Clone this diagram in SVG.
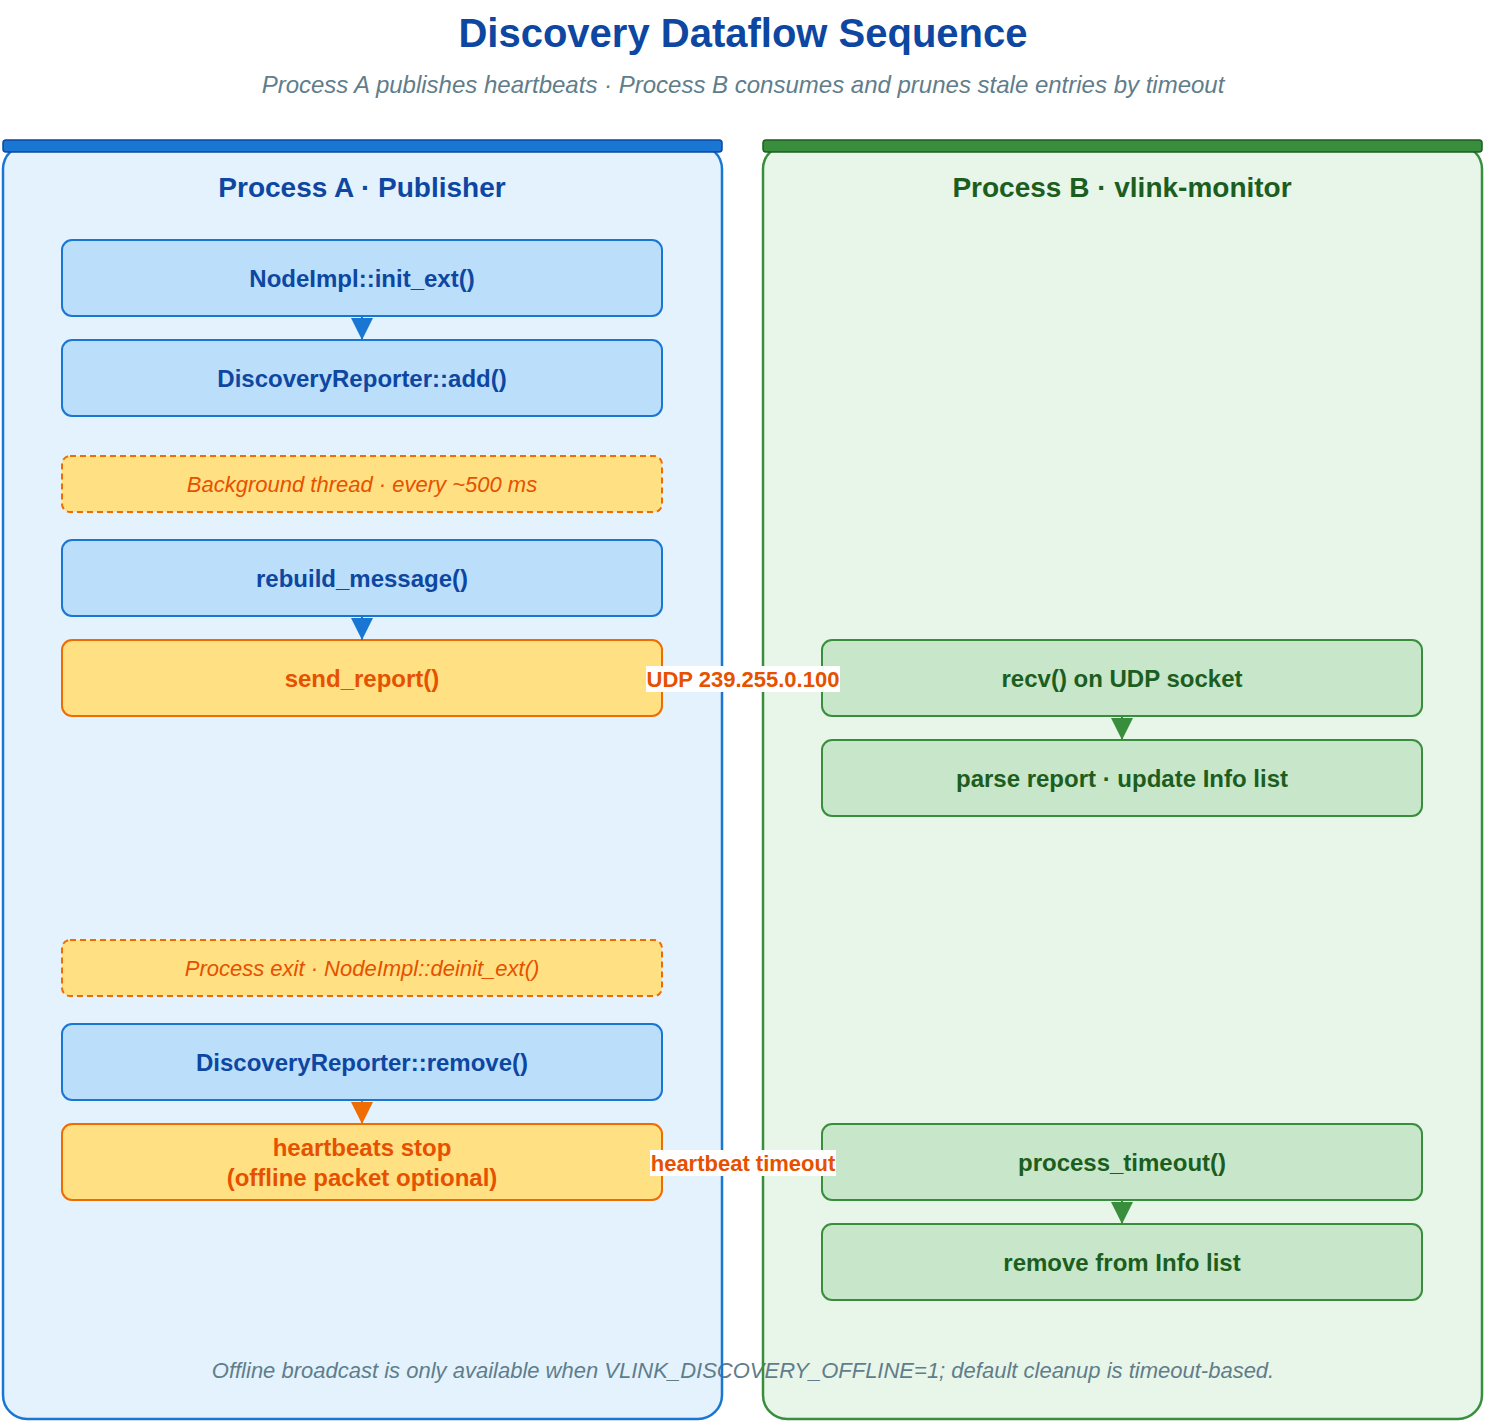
<svg xmlns="http://www.w3.org/2000/svg" width="1486" height="1424" viewBox="0 0 1486 1424">
<style>
text{font-family:Arial,"Liberation Sans",Helvetica,sans-serif;text-anchor:middle;dominant-baseline:central}
.title{font-size:40px;font-weight:bold;fill:#0d47a1}
.sub{font-size:24px;font-style:italic;fill:#607d8b}
.foot{font-size:22px;font-style:italic;fill:#607d8b}
.lt{font-size:28px;font-weight:bold}
.nb rect{fill:#bbdefb;stroke:#1976d2;stroke-width:2}
.nb text{font-size:24px;font-weight:bold;fill:#0d47a1}
.no rect{fill:#ffe082;stroke:#ef6c00;stroke-width:2}
.no text{font-size:24px;font-weight:bold;fill:#e65100}
.nd rect{fill:#ffe082;stroke:#ef6c00;stroke-width:2;stroke-dasharray:6 4}
.nd text{font-size:22px;font-style:italic;fill:#e65100}
.ng rect{fill:#c8e6c9;stroke:#388e3c;stroke-width:2}
.ng text{font-size:24px;font-weight:bold;fill:#1b5e20}
.el{font-size:22px;font-weight:bold;fill:#e65100}
</style>
<defs>
<marker id="ab" markerUnits="userSpaceOnUse" markerWidth="22" markerHeight="24" refX="22" refY="11" orient="auto"><path d="M0,0 L22,11 L0,22 Z" fill="#1976d2"/></marker>
<marker id="ag" markerUnits="userSpaceOnUse" markerWidth="22" markerHeight="24" refX="22" refY="11" orient="auto"><path d="M0,0 L22,11 L0,22 Z" fill="#388e3c"/></marker>
<marker id="ao" markerUnits="userSpaceOnUse" markerWidth="22" markerHeight="24" refX="22" refY="11" orient="auto"><path d="M0,0 L22,11 L0,22 Z" fill="#ef6c00"/></marker>
</defs>
<rect width="1486" height="1424" fill="#ffffff"/>
<text class="title" x="743" y="33">Discovery Dataflow Sequence</text>
<text class="sub" x="743" y="84">Process A publishes heartbeats · Process B consumes and prunes stale entries by timeout</text>

<g id="laneA">
<rect x="3" y="145" width="719" height="1274" rx="24" fill="#e3f2fd"/>
<text class="lt" x="362" y="187" fill="#0d47a1">Process A · Publisher</text>
</g>
<g id="laneB">
<rect x="763" y="145" width="719" height="1274" rx="24" fill="#e8f5e9"/>
<text class="lt" x="1122" y="187" fill="#1b5e20">Process B · vlink-monitor</text>
</g>
<text class="foot" x="743" y="1370">Offline broadcast is only available when VLINK_DISCOVERY_OFFLINE=1; default cleanup is timeout-based.</text>
<g id="laneBorders">
<rect x="3" y="145" width="719" height="1274" rx="24" fill="none" stroke="#1976d2" stroke-width="2.5"/>
<rect x="3" y="140" width="719" height="12" rx="3" fill="#1976d2" stroke="#0d47a1" stroke-width="1.5"/>
<rect x="763" y="145" width="719" height="1274" rx="24" fill="none" stroke="#388e3c" stroke-width="2.5"/>
<rect x="763" y="140" width="719" height="12" rx="3" fill="#388e3c" stroke="#1b5e20" stroke-width="1.5"/>
</g>

<g id="init_ext" class="nb"><rect x="62" y="240" width="600" height="76" rx="10"/><text x="362" y="278">NodeImpl::init_ext()</text></g>
<g id="add" class="nb"><rect x="62" y="340" width="600" height="76" rx="10"/><text x="362" y="378">DiscoveryReporter::add()</text></g>
<g id="bgthread" class="nd"><rect x="62" y="456" width="600" height="56" rx="8"/><text x="362" y="484">Background thread · every ~500 ms</text></g>
<g id="rebuild" class="nb"><rect x="62" y="540" width="600" height="76" rx="10"/><text x="362" y="578">rebuild_message()</text></g>
<g id="send_report" class="no"><rect x="62" y="640" width="600" height="76" rx="10"/><text x="362" y="678">send_report()</text></g>
<g id="exit" class="nd"><rect x="62" y="940" width="600" height="56" rx="8"/><text x="362" y="968">Process exit · NodeImpl::deinit_ext()</text></g>
<g id="remove" class="nb"><rect x="62" y="1024" width="600" height="76" rx="10"/><text x="362" y="1062">DiscoveryReporter::remove()</text></g>
<g id="hbstop" class="no"><rect x="62" y="1124" width="600" height="76" rx="10"/><text x="362" y="1147">heartbeats stop</text><text x="362" y="1177">(offline packet optional)</text></g>

<g id="recv" class="ng"><rect x="822" y="640" width="600" height="76" rx="10"/><text x="1122" y="678">recv() on UDP socket</text></g>
<g id="parse" class="ng"><rect x="822" y="740" width="600" height="76" rx="10"/><text x="1122" y="778">parse report · update Info list</text></g>
<g id="ptimeout" class="ng"><rect x="822" y="1124" width="600" height="76" rx="10"/><text x="1122" y="1162">process_timeout()</text></g>
<g id="rminfo" class="ng"><rect x="822" y="1224" width="600" height="76" rx="10"/><text x="1122" y="1262">remove from Info list</text></g>

<g id="connectors">
<line x1="362" y1="317" x2="362" y2="340" stroke="#1976d2" stroke-width="2" marker-end="url(#ab)"/>
<line x1="362" y1="617" x2="362" y2="640" stroke="#1976d2" stroke-width="2" marker-end="url(#ab)"/>
<line x1="362" y1="1101" x2="362" y2="1124" stroke="#ef6c00" stroke-width="2" marker-end="url(#ao)"/>
<line x1="1122" y1="717" x2="1122" y2="740" stroke="#388e3c" stroke-width="2" marker-end="url(#ag)"/>
<line x1="1122" y1="1201" x2="1122" y2="1224" stroke="#388e3c" stroke-width="2" marker-end="url(#ag)"/>
<line x1="662" y1="678" x2="822" y2="678" stroke="#ef6c00" stroke-width="2" marker-end="url(#ao)"/>
<line x1="662" y1="1162" x2="822" y2="1162" stroke="#ef6c00" stroke-width="2" marker-end="url(#ao)"/>
<rect x="646" y="666" width="194" height="26" fill="#ffffff"/>
<text class="el" x="743" y="679">UDP 239.255.0.100</text>
<rect x="650" y="1150" width="186" height="26" fill="#ffffff"/>
<text class="el" x="743" y="1163">heartbeat timeout</text>
</g>
</svg>
